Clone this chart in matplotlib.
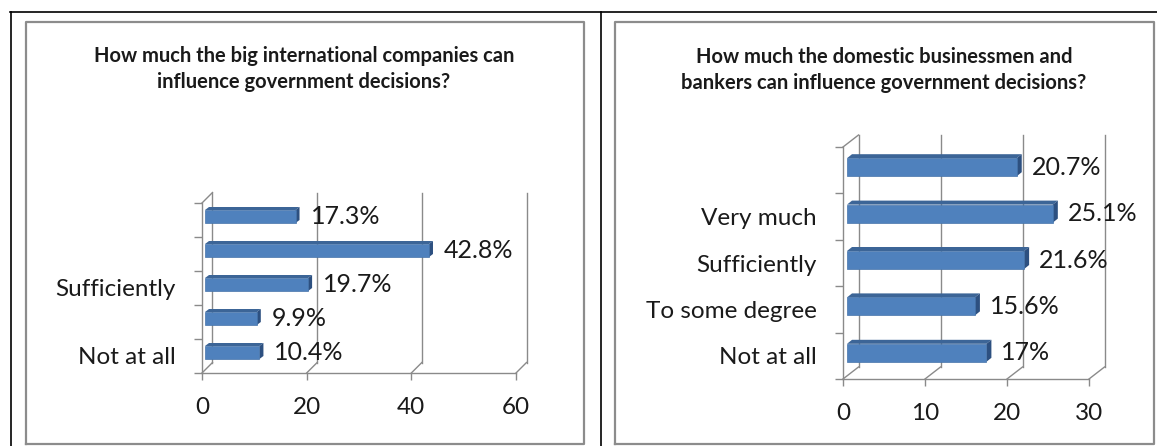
import matplotlib
matplotlib.use("Agg")
import matplotlib.pyplot as plt
from matplotlib.patches import Polygon

W, H = 1157, 446
plt.rcParams['font.family'] = ['Lato', 'DejaVu Sans']

# --- datos ---
intl_title = "How much the big international companies can\ninfluence government decisions?"
intl_labels = ["Not at all", "", "Sufficiently", "", ""]
intl_values = [10.4, 9.9, 19.7, 42.8, 17.3]
intl_ticks = [0, 20, 40, 60]

dom_title = "How much the domestic businessmen and\nbankers can influence government decisions?"
dom_labels = ["Not at all", "To some degree", "Sufficiently", "Very much", ""]
dom_values = [17, 15.6, 21.6, 25.1, 20.7]
dom_ticks = [0, 10, 20, 30]

GRID = '#8a8a8a'
FRONT = '#4f81bd'
TOP = '#3c6597'
SIDE = '#2d5080'
TXT = '#1a1a1a'


def barras3d(fig, caja, valores, etiquetas, ticks, pared, frente, prof, alto_px):
    # caja: (x0, y_arriba, x1, y_piso) en píxeles de la figura, origen arriba-izquierda
    x0, ya, x1, yp = caja
    n = len(valores)
    ax = fig.add_axes([x0 / W, 1 - yp / H, (x1 - x0) / W, (yp - ya) / H])
    ax.set_xlim(ticks[0], ticks[-1])
    ax.set_ylim(-0.5, n - 0.5)
    sx = (x1 - x0) / (ticks[-1] - ticks[0])
    sy = (yp - ya) / n

    def u(dx, dy):
        return dx / sx, dy / sy

    wx, wy = u(*pared)
    fx, fy = u(*frente)
    dx, dy = u(*prof)
    h = alto_px / sy
    base, techo = -0.5, n - 0.5

    # pared del fondo y diagonales del piso
    for t in ticks:
        ax.plot([t + wx, t + wx], [base + wy, techo + wy], color=GRID, lw=1, clip_on=False, zorder=1)
        ax.plot([t, t + wx], [base, base + wy], color=GRID, lw=1, clip_on=False, zorder=1)
    ax.plot([0, wx], [techo, techo + wy], color=GRID, lw=1, clip_on=False, zorder=1)

    # barras: cara frontal, superior y lateral
    ys = [i + fy for i in range(n)]
    ax.barh(ys, valores, left=fx, height=h, color=FRONT, edgecolor='#4674aa', lw=0.5, zorder=3, clip_on=False)
    gx, _ = u(15, 0)
    for y, v in zip(ys, valores):
        arr, aba = y + h / 2, y - h / 2
        ax.add_patch(Polygon([(fx, arr), (fx + v, arr), (fx + v + dx, arr + dy), (fx + dx, arr + dy)],
                             closed=True, color=TOP, lw=0, zorder=2, clip_on=False))
        ax.add_patch(Polygon([(fx + v, aba), (fx + v, arr), (fx + v + dx, arr + dy), (fx + v + dx, aba + dy)],
                             closed=True, color=SIDE, lw=0, zorder=2, clip_on=False))
        ax.text(fx + v + gx, y, f"{v:g}%", ha='left', va='center', fontsize=18, color=TXT, zorder=4)

    for lado in ['top', 'right']:
        ax.spines[lado].set_visible(False)
    for lado in ['left', 'bottom']:
        ax.spines[lado].set_color(GRID)
        ax.spines[lado].set_linewidth(1)
    ax.patch.set_alpha(0)

    ax.set_xticks(ticks)
    ax.set_xticklabels([str(t) for t in ticks], fontsize=17.5, color=TXT)
    ax.tick_params(axis='x', length=5, width=1, color=GRID, pad=12)
    ax.set_yticks(range(n))
    ax.set_yticklabels(etiquetas, fontsize=17.5, color=TXT)
    ax.set_yticks([i - 0.5 for i in range(n + 1)], minor=True)
    ax.tick_params(axis='y', which='major', length=0, pad=19)
    ax.tick_params(axis='y', which='minor', length=6, width=1, color=GRID)
    return ax


fig = plt.figure(figsize=(W / 100, H / 100), dpi=100)

# marco de la tabla y recuadros de los gráficos
bg = fig.add_axes([0, 0, 1, 1])
bg.set_xlim(0, W)
bg.set_ylim(H, 0)
bg.axis('off')
bg.plot([10, W], [12, 12], color='black', lw=1.2)
bg.plot([11, 11], [12, H], color='black', lw=1.2)
bg.plot([601, 601], [12, H], color='black', lw=1.2)
for a, b in [(26, 584), (615, 1154)]:
    bg.plot([a, a, b, b, a], [444, 22, 22, 444, 444], color='#8c8c8c', lw=1.6)

barras3d(fig, (202, 203, 516, 373), intl_values, intl_labels, intl_ticks,
         pared=(10.5, 10.5), frente=(3, 3.5), prof=(4, 3), alto_px=13)
barras3d(fig, (843, 147, 1089, 379), dom_values, dom_labels, dom_ticks,
         pared=(15.5, 12), frente=(4, 3), prof=(5, 4), alto_px=18)

fig.text(304 / W, 1 - 69 / H, intl_title, ha='center', va='center', fontsize=14.5,
         fontweight='bold', linespacing=1.35, color=TXT)
fig.text(884 / W, 1 - 70 / H, dom_title, ha='center', va='center', fontsize=14.5,
         fontweight='bold', linespacing=1.35, color=TXT)

fig.savefig('out.png', dpi=100)
